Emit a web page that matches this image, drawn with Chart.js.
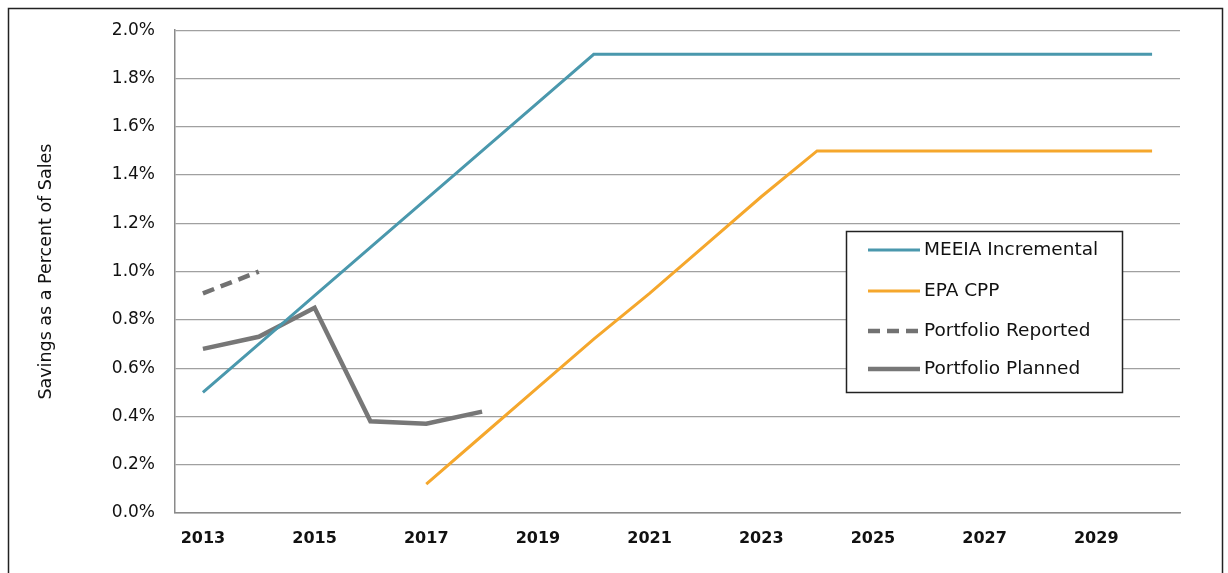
<!DOCTYPE html>
<html>
<head>
<meta charset="utf-8">
<script src="https://cdn.jsdelivr.net/npm/chart.js@4"></script>
<style>
  html, body { margin: 0; padding: 0; background: #fff; }
  #wrap { width: 1228px; height: 573px; }
</style>
</head>
<body>
<div id="wrap"><canvas id="c" width="1228" height="573"></canvas></div>
<script>
const years = ['2013','2014','2015','2016','2017','2018','2019','2020','2021','2022','2023','2024','2025','2026','2027','2028','2029','2030'];
const meeiaIncremental = [0.50, 0.70, 0.90, 1.10, 1.30, 1.50, 1.70, 1.90, 1.90, 1.90, 1.90, 1.90, 1.90, 1.90, 1.90, 1.90, 1.90, 1.90];
const epaCpp = [null, null, null, null, 0.12, 0.32, 0.52, 0.72, 0.91, 1.11, 1.31, 1.50, 1.50, 1.50, 1.50, 1.50, 1.50, 1.50];
const portfolioReported = [0.91, 1.00, null, null, null, null, null, null, null, null, null, null, null, null, null, null, null, null];
const portfolioPlanned = [0.68, 0.73, 0.85, 0.38, 0.37, 0.42, null, null, null, null, null, null, null, null, null, null, null, null];
const yTicks = ['0.0%','0.2%','0.4%','0.6%','0.8%','1.0%','1.2%','1.4%','1.6%','1.8%','2.0%'];
const yTitle = 'Savings as a Percent of Sales';

const FONT = "'DejaVu Sans', sans-serif";

const bgPlugin = {
  id: 'bg',
  beforeDraw(chart) {
    const ctx = chart.ctx;
    ctx.save();
    ctx.fillStyle = '#fff';
    ctx.fillRect(0, 0, chart.width, chart.height);
    ctx.strokeStyle = '#222';
    ctx.lineWidth = 1.5;
    ctx.strokeRect(8.5, 8.5, 1214, 620);
    ctx.restore();
  }
};

const legendPlugin = {
  id: 'boxLegend',
  afterDraw(chart) {
    const ctx = chart.ctx;
    ctx.save();
    const bx = 846, by = 231, bw = 276, bh = 161;
    ctx.fillStyle = '#fff';
    ctx.fillRect(bx, by, bw, bh);
    ctx.strokeStyle = '#222';
    ctx.lineWidth = 1.5;
    ctx.strokeRect(bx + 0.5, by + 0.5, bw, bh);
    const rows = [250, 291, 331, 369];
    ctx.font = '18.5px ' + FONT;
    ctx.textBaseline = 'middle';
    ctx.textAlign = 'left';
    chart.data.datasets.forEach((ds, i) => {
      const y = rows[i];
      ctx.beginPath();
      ctx.strokeStyle = ds.borderColor;
      ctx.lineWidth = ds.borderWidth;
      ctx.setLineDash(ds.borderDash || []);
      ctx.moveTo(868, y);
      ctx.lineTo(920, y);
      ctx.stroke();
      ctx.setLineDash([]);
      ctx.fillStyle = '#111';
      ctx.fillText(ds.label, 924, y);
    });
    ctx.restore();
  }
};

new Chart(document.getElementById('c'), {
  type: 'line',
  data: {
    labels: years,
    datasets: [
      { label: 'MEEIA Incremental', data: meeiaIncremental, borderColor: '#4a98ad', borderWidth: 3 },
      { label: 'EPA CPP', data: epaCpp, borderColor: '#f5a72c', borderWidth: 3 },
      { label: 'Portfolio Reported', data: portfolioReported, borderColor: '#727272', borderWidth: 4.5, borderDash: [12, 7] },
      { label: 'Portfolio Planned', data: portfolioPlanned, borderColor: '#777777', borderWidth: 4.5 }
    ]
  },
  options: {
    responsive: false,
    animation: false,
    devicePixelRatio: 1,
    layout: { padding: { left: 0, top: 29, right: 48, bottom: 0 } },
    elements: {
      point: { radius: 0, hoverRadius: 0 },
      line: { tension: 0, fill: false, borderJoinStyle: 'miter', borderCapStyle: 'butt' }
    },
    plugins: {
      legend: { display: false },
      tooltip: { enabled: false }
    },
    scales: {
      x: {
        type: 'category',
        offset: true,
        grid: { display: false, drawTicks: false },
        border: { display: true, color: '#8a8a8a', width: 1.5 },
        ticks: {
          autoSkip: false,
          maxRotation: 0,
          minRotation: 0,
          padding: 16,
          color: '#111',
          font: { family: FONT, size: 16, weight: 'bold' },
          callback: function(v, i) { return i % 2 === 0 ? years[i] : ''; }
        },
        afterFit(scale) { scale.height = 60; }
      },
      y: {
        min: 0,
        max: 2.0,
        grid: { color: '#a0a0a0', lineWidth: 1.2, drawTicks: false },
        border: { display: true, color: '#8a8a8a', width: 1.5 },
        ticks: {
          stepSize: 0.2,
          padding: 20,
          color: '#111',
          font: { family: FONT, size: 17 },
          callback: function(v, i) { return yTicks[i]; }
        },
        title: {
          display: true,
          text: yTitle,
          color: '#111',
          font: { family: FONT, size: 17.5 },
          padding: { top: 36, bottom: 0 }
        },
        afterFit(scale) { scale.width = 175; }
      }
    }
  },
  plugins: [bgPlugin, legendPlugin]
});
</script>
</body>
</html>
